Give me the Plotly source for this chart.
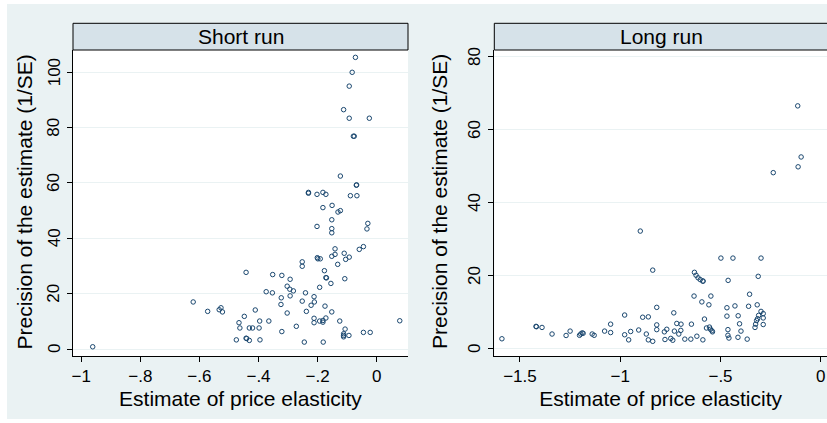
import plotly.graph_objects as go

# ---- Data: Short run ----
sr_x = [-0.072, -0.083, -0.093, -0.112, -0.093, -0.025, -0.079, -0.076, -0.123, -0.069, -0.068,
        -0.231, -0.231, -0.202, -0.182, -0.172, -0.089, -0.067, -0.182, -0.151, -0.131, -0.123,
        -0.152, -0.030, -0.033, -0.152, -0.152, -0.202,
        -0.961, -0.621, -0.572, -0.533, -0.527, -0.522, -0.466, -0.463, -0.475, -0.448, -0.442,
        -0.442, -0.440, -0.431, -0.420, -0.431, -0.411, -0.396, -0.398, -0.395, -0.374, -0.365,
        -0.353, -0.352, -0.321, -0.323, -0.324, -0.321, -0.303, -0.303, -0.293, -0.294, -0.282,
        -0.293, -0.272, -0.252, -0.252, -0.252, -0.245, -0.241, -0.238, -0.222, -0.212, -0.211,
        -0.212, -0.212, -0.201, -0.199, -0.193, -0.191, -0.193, -0.182, -0.182, -0.172, -0.177,
        -0.175, -0.172, -0.170, -0.181, -0.155, -0.152, -0.152, -0.141, -0.141, -0.132, -0.125,
        -0.110, -0.105, -0.093, -0.108, -0.107, -0.112, -0.112, -0.112, -0.094, -0.059, -0.045,
        -0.045, -0.022, 0.078]
sr_y = [105.4, 100.0, 95.0, 86.5, 83.4, 83.4, 76.9, 76.9, 62.5, 59.2, 59.3,
        56.6, 56.3, 55.9, 56.6, 55.9, 55.4, 55.4, 51.1, 51.9, 49.5, 50.0,
        46.7, 45.4, 43.4, 43.5, 42.0, 44.3,
        0.8, 17.0, 13.6, 14.2, 14.9, 13.4, 9.5, 7.6, 3.3, 11.8, 27.7,
        3.9, 3.8, 7.6, 7.6, 3.1, 14.1, 10.1, 7.6, 3.3, 20.7, 10.1,
        20.3, 26.9, 26.6, 18.5, 16.1, 6.3, 13.0, 22.7, 25.2, 21.6, 21.0,
        19.2, 8.2, 31.5, 29.9, 17.3, 2.5, 20.3, 13.6, 15.8, 18.9, 17.0,
        11.1, 9.5, 33.0, 32.6, 10.1, 32.6, 22.3, 10.3, 9.7, 11.2, 28.3,
        15.5, 25.8, 25.7, 2.5, 23.7, 33.5, 13.4, 36.2, 34.2, 30.6, 10.1,
        34.6, 32.4, 33.2, 25.4, 7.2, 5.5, 4.9, 4.4, 4.9, 36.0, 37.0,
        6.0, 6.0, 10.2]

# ---- Data: Long run ----
lr_x = [-0.115, -0.098, -0.113, -0.237,
        -1.59, -1.42, -1.418, -1.39, -1.34, -1.27, -1.25, -1.203, -1.197, -1.19, -1.185, -1.14,
        -1.13, -1.078, -1.048, -1.048, -0.978, -0.978, -0.958, -0.948, -0.908, -0.90, -0.888,
        -0.87, -0.86, -0.86, -0.838, -0.838, -0.818, -0.818, -0.818, -0.78, -0.768, -0.777,
        -0.748, -0.738, -0.733, -0.73, -0.718, -0.697, -0.708, -0.698, -0.678, -0.648, -0.645,
        -0.632, -0.63, -0.622, -0.612, -0.601, -0.588, -0.587, -0.618, -0.593, -0.588, -0.58,
        -0.57, -0.555, -0.55, -0.543, -0.54, -0.558, -0.548, -0.498, -0.468, -0.468, -0.463,
        -0.463, -0.458, -0.462, -0.438, -0.428, -0.413, -0.412, -0.405, -0.398, -0.367, -0.36,
        -0.355, -0.328, -0.325, -0.32, -0.315, -0.317, -0.312, -0.31, -0.298, -0.298, -0.287,
        -0.287, -0.287]
lr_y = [66.6, 52.6, 49.9, 48.3,
        2.8, 6.2, 6.1, 5.9, 4.1, 3.7, 4.9, 3.75, 4.1, 4.4, 4.3, 4.1,
        3.75, 4.9, 6.8, 4.5, 9.3, 3.9, 2.5, 4.8, 5.2, 32.3, 8.7,
        4.1, 8.8, 2.5, 21.6, 2.1, 11.4, 6.6, 5.3, 4.7, 5.4, 2.6,
        2.9, 2.4, 9.9, 4.9, 7.0, 6.8, 4.1, 5.1, 2.7, 2.7, 6.8,
        14.5, 21.0, 20.2, 19.5, 19.0, 18.6, 18.6, 3.5, 12.9, 2.5, 8.2,
        5.75, 6.0, 5.4, 5.0, 4.7, 12.1, 14.5, 24.9, 11.3, 9.0, 5.3,
        3.75, 3.0, 18.8, 24.9, 11.8, 3.2, 9.1, 6.9, 4.9, 2.7, 11.7,
        15.0, 5.9, 6.8, 7.8, 8.3, 12.1, 19.9, 9.2, 24.9, 10.3, 9.7,
        8.5, 6.7]

sr_xticks = [-1, -0.8, -0.6, -0.4, -0.2, 0]
sr_xticktext = ["\u22121", "\u2212.8", "\u2212.6", "\u2212.4", "\u2212.2", "0"]
sr_yticks = [0, 20, 40, 60, 80, 100]
lr_xticks = [-1.5, -1, -0.5, 0]
lr_xticktext = ["\u22121.5", "\u22121", "\u2212.5", "0"]
lr_yticks = [0, 20, 40, 60, 80]

panel_titles = ["Short run", "Long run"]
x_title = "Estimate of price elasticity"
y_title = "Precision of the estimate (1/SE)"

# ---- Styling ----
BG = "#eaf2f3"
HEAD = "#d6e2e9"
NAVY = "#1a476f"
FONT = "Liberation Sans, Arial, Helvetica, sans-serif"

W, H = 827, 423
ML, MR, MT, MB = 73, 0, 50, 67
PW = W - ML - MR
PH = H - MT - MB

def px2x(px):
    return (px - ML) / PW

def py2y(py):
    return (H - MB - py) / PH

marker = dict(symbol="circle-open", size=4.5, color=NAVY, line=dict(width=1, color=NAVY))

fig = go.Figure()
fig.add_trace(go.Scatter(x=sr_x, y=sr_y, mode="markers", marker=marker,
                         xaxis="x", yaxis="y", showlegend=False, hoverinfo="x+y"))
fig.add_trace(go.Scatter(x=lr_x, y=lr_y, mode="markers", marker=marker,
                         xaxis="x2", yaxis="y2", showlegend=False, hoverinfo="x+y"))

axis_common = dict(showline=True, linecolor="black", linewidth=1, ticks="outside",
                   ticklen=5, tickcolor="black", tickwidth=1, zeroline=False,
                   tickfont=dict(family=FONT, size=17, color="black"))

d1 = [0, px2x(408)]
d2 = [px2x(494.3), 1]

fig.update_layout(
    width=W, height=H,
    margin=dict(l=ML, r=MR, t=MT, b=MB, autoexpand=False),
    paper_bgcolor=BG, plot_bgcolor="white",
    font=dict(family=FONT, color="black"),
    xaxis=dict(domain=d1, range=[-1.0277, 0.1059], tickvals=sr_xticks, ticktext=sr_xticktext,
               showgrid=False, anchor="y",
               title=dict(text=x_title, font=dict(size=21), standoff=5), **axis_common),
    yaxis=dict(domain=[0, 1], range=[-2.53, 108.06], tickvals=sr_yticks, showticklabels=False,
               showgrid=True, gridcolor=BG, gridwidth=1, anchor="x", **axis_common),
    xaxis2=dict(domain=d2, range=[-1.628, 0.031], tickvals=lr_xticks, ticktext=lr_xticktext,
                showgrid=False, anchor="y2",
                title=dict(text=x_title, font=dict(size=21), standoff=5), **axis_common),
    yaxis2=dict(domain=[0, 1], range=[-1.92, 81.9], tickvals=lr_yticks, showticklabels=False,
                showgrid=True, gridcolor=BG, gridwidth=1, anchor="x2", **axis_common),
)

# rotated y tick labels (read from the tick arrays, placed on the axis scale)
for yref, ticks, cx in [("y", sr_yticks, 54.0), ("y2", lr_yticks, 475.0)]:
    for v in ticks:
        fig.add_annotation(text=str(v), xref="paper", yref=yref, x=px2x(cx), y=v,
                           textangle=-90, showarrow=False, xanchor="center", yanchor="middle",
                           font=dict(size=17, family=FONT, color="black"))

# rotated y-axis titles
for cx in [23.5, 439.0]:
    fig.add_annotation(text=y_title, xref="paper", yref="paper", x=px2x(cx), y=py2y(202),
                       textangle=-90, showarrow=False, xanchor="center", yanchor="middle",
                       font=dict(size=21, family=FONT, color="black"))

# header boxes
ytop = py2y(23.3)
for (x0, x1) in [(d1[0], d1[1]), (d2[0], px2x(840))]:
    fig.add_shape(type="rect", xref="paper", yref="paper", x0=x0, x1=x1, y0=1, y1=ytop,
                  fillcolor=HEAD, line=dict(color="black", width=1), layer="above")

fig.add_annotation(text=panel_titles[0], xref="paper", yref="paper",
                   x=(d1[0] + d1[1]) / 2, y=(1 + ytop) / 2, showarrow=False,
                   xanchor="center", yanchor="middle", font=dict(size=21, family=FONT, color="black"))
fig.add_annotation(text=panel_titles[1], xref="paper", yref="paper",
                   x=px2x(661), y=(1 + ytop) / 2, showarrow=False,
                   xanchor="center", yanchor="middle", font=dict(size=21, family=FONT, color="black"))

# white outer border strips (left, top, bottom)
for (x0, x1, y0, y1) in [(px2x(-5), px2x(7), py2y(430), py2y(-5)),
                         (px2x(-5), px2x(840), py2y(4), py2y(-5)),
                         (px2x(-5), px2x(840), py2y(430), py2y(419))]:
    fig.add_shape(type="rect", xref="paper", yref="paper", x0=x0, x1=x1, y0=y0, y1=y1,
                  fillcolor="white", line=dict(width=0), layer="above")

fig.write_html("out.html", config={"displayModeBar": False},
               post_script="document.body.style.margin='0';document.body.style.padding='0';")
